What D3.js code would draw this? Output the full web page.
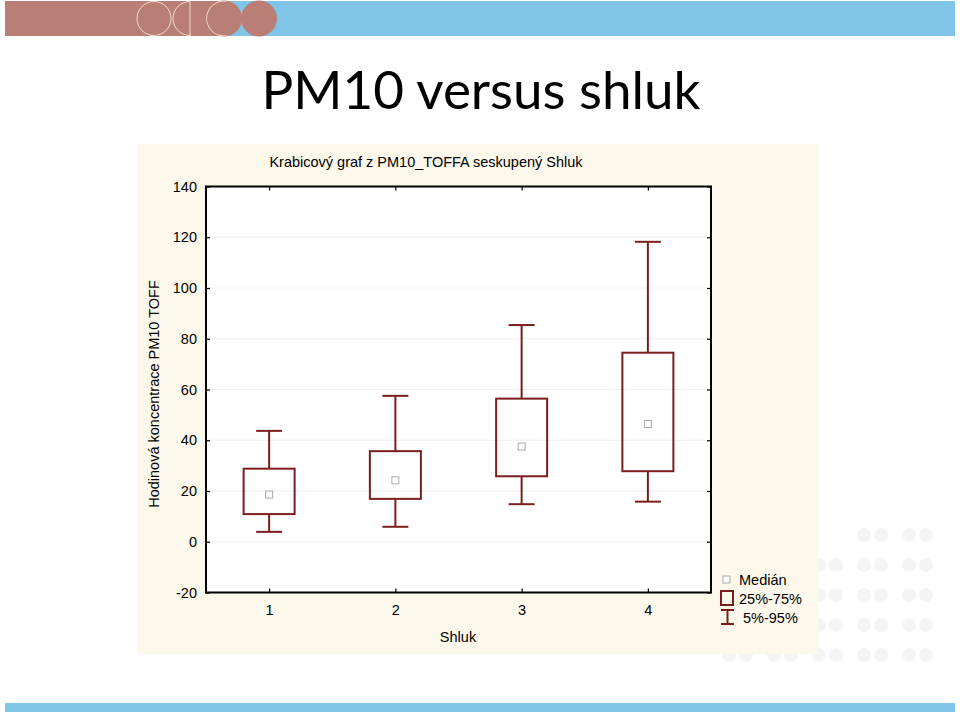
<!DOCTYPE html>
<html><head><meta charset="utf-8">
<script src="https://cdn.jsdelivr.net/npm/d3@7"></script>
<style>html,body{margin:0;padding:0;background:#fff;}svg{display:block;}</style>
</head><body>
<script>
// ---- data ----
const categories = [1, 2, 3, 4];
const p05    = [3.9, 5.9, 14.8, 15.8];
const q25    = [10.9, 16.9, 25.8, 27.8];
const median = [18.6, 24.2, 37.5, 46.4];
const q75    = [28.8, 35.7, 56.4, 74.5];
const p95    = [43.7, 57.5, 85.4, 118.2];
const yTicks = [-20, 0, 20, 40, 60, 80, 100, 120, 140];
const legendLabels = ["Medián", "25%-75%", "5%-95%"];
const slideTitle = "PM10 versus shluk";
const chartTitle = "Krabicový graf z PM10_TOFFA seskupený Shluk";
const yLabel = "Hodinová koncentrace PM10 TOFF";
const xLabel = "Shluk";

const W = 960, H = 716;
const svg = d3.select("body").append("svg").attr("width", W).attr("height", H);
const dark = "#7d1d1d";
const brown = "#b97f77", sky = "#80c5e8", pale = "#f3dcd0";

// ---- slide decoration ----
svg.append("defs").append("clipPath").attr("id", "cl").append("rect")
  .attr("x", 0).attr("y", 0).attr("width", 190).attr("height", 40);
svg.append("rect").attr("x", 5).attr("y", 1).attr("width", 950).attr("height", 35).attr("fill", sky);
svg.append("rect").attr("x", 5).attr("y", 1).attr("width", 219).attr("height", 35).attr("fill", brown);
svg.append("ellipse").attr("cx", 224).attr("cy", 18.5).attr("rx", 18).attr("ry", 18).attr("fill", brown);
svg.append("ellipse").attr("cx", 259).attr("cy", 18.5).attr("rx", 18).attr("ry", 18).attr("fill", brown);
svg.append("ellipse").attr("cx", 154).attr("cy", 18.5).attr("rx", 17).attr("ry", 17)
  .attr("fill", "none").attr("stroke", pale).attr("stroke-width", 1);
svg.append("ellipse").attr("cx", 190).attr("cy", 18.5).attr("rx", 17).attr("ry", 17).attr("clip-path", "url(#cl)")
  .attr("fill", "none").attr("stroke", pale).attr("stroke-width", 1);
svg.append("line").attr("x1", 190).attr("x2", 190).attr("y1", 1).attr("y2", 36).attr("stroke", pale).attr("stroke-width", 1);
svg.append("path").attr("d", d3.arc()({innerRadius: 17, outerRadius: 17.8, startAngle: Math.PI * 0.95, endAngle: Math.PI * 2.05}))
  .attr("transform", "translate(224,18.5)").attr("fill", pale);
svg.append("rect").attr("x", 5).attr("y", 703).attr("width", 950).attr("height", 9).attr("fill", sky);

// faint watermark pattern bottom-right
const wm = svg.append("g").attr("fill", "#f4f4f4");
for (let r = 0; r < 5; r++) {
  for (let c = 0; c < 5; c++) {
    const cx = 926 - c * 45, cy = 535 + r * 30;
    if (cx < 720 + (4 - r) * 30) continue;
    wm.append("circle").attr("cx", cx).attr("cy", cy).attr("r", 7);
    wm.append("circle").attr("cx", cx - 17).attr("cy", cy).attr("r", 7);
  }
}

// slide title
svg.append("text").attr("x", 481).attr("y", 109).attr("text-anchor", "middle")
  .attr("font-family", "Lato, 'Open Sans', sans-serif").attr("font-size", 53).attr("fill", "#000")
  .text(slideTitle);

// ---- chart panel ----
svg.append("rect").attr("x", 137).attr("y", 144).attr("width", 681).attr("height", 510).attr("fill", "#fdf8ec");

const pL = 206, pR = 711, pT = 186.5, pB = 592.5;
svg.append("rect").attr("x", pL).attr("y", pT).attr("width", pR - pL).attr("height", pB - pT).attr("fill", "#fff");

const x = d3.scaleLinear().domain([0.5, 4.5]).range([pL, pR]);
const y = d3.scaleLinear().domain([-20, 140]).range([pB, pT]);

// grid
svg.append("g").selectAll("line").data(yTicks.filter(t => t > -20 && t < 140)).join("line")
  .attr("x1", pL).attr("x2", pR).attr("y1", d => y(d)).attr("y2", d => y(d))
  .attr("stroke", "#efefef").attr("stroke-width", 1);

const font = "'Liberation Sans', Arial, sans-serif";
const fs = 14.5;
const fmt = d => String(d);
// axes
const axL = svg.append("g").attr("transform", `translate(${pL},0)`)
  .call(d3.axisLeft(y).tickValues(yTicks).tickSize(-4).tickPadding(9).tickFormat(fmt));
const axR = svg.append("g").attr("transform", `translate(${pR},0)`)
  .call(d3.axisRight(y).tickValues(yTicks).tickSize(-4).tickFormat(""));
const axB = svg.append("g").attr("transform", `translate(0,${pB})`)
  .call(d3.axisBottom(x).tickValues(categories).tickSize(-4).tickPadding(12).tickFormat(fmt));
const axT = svg.append("g").attr("transform", `translate(0,${pT})`)
  .call(d3.axisTop(x).tickValues(categories).tickSize(-4).tickFormat(""));
[axL, axR, axB, axT].forEach(a => {
  a.select(".domain").remove();
  a.selectAll(".tick line").attr("stroke", "#000").attr("stroke-width", 1.2);
  a.selectAll("text").attr("font-family", font).attr("font-size", fs).attr("fill", "#000");
});
svg.append("rect").attr("x", pL).attr("y", pT).attr("width", pR - pL).attr("height", pB - pT)
  .attr("fill", "none").attr("stroke", "#000").attr("stroke-width", 2);

// boxes
const bw = 51, cw = 26;
const g = svg.append("g").attr("stroke", dark).attr("stroke-width", 2).attr("fill", "none");
categories.forEach((c, i) => {
  const cx = x(c);
  g.append("line").attr("x1", cx).attr("x2", cx).attr("y1", y(p95[i])).attr("y2", y(q75[i]));
  g.append("line").attr("x1", cx).attr("x2", cx).attr("y1", y(q25[i])).attr("y2", y(p05[i]));
  g.append("line").attr("x1", cx - cw / 2).attr("x2", cx + cw / 2).attr("y1", y(p95[i])).attr("y2", y(p95[i]));
  g.append("line").attr("x1", cx - cw / 2).attr("x2", cx + cw / 2).attr("y1", y(p05[i])).attr("y2", y(p05[i]));
  g.append("rect").attr("x", cx - bw / 2).attr("y", y(q75[i])).attr("width", bw).attr("height", y(q25[i]) - y(q75[i]));
  svg.append("rect").attr("x", cx - 3.5).attr("y", y(median[i]) - 3.5).attr("width", 7).attr("height", 7)
    .attr("fill", "#fff").attr("stroke", "#aaa").attr("stroke-width", 1);
});

// titles
svg.append("text").attr("x", 426).attr("y", 167).attr("text-anchor", "middle")
  .attr("font-family", font).attr("font-size", fs).text(chartTitle);
svg.append("text").attr("transform", "translate(159,394) rotate(-90)").attr("text-anchor", "middle")
  .attr("font-family", font).attr("font-size", fs).text(yLabel);
svg.append("text").attr("x", 458).attr("y", 642).attr("text-anchor", "middle")
  .attr("font-family", font).attr("font-size", fs).text(xLabel);

// legend
const lg = svg.append("g").attr("font-family", font).attr("font-size", fs);
lg.append("rect").attr("x", 723).attr("y", 576).attr("width", 7).attr("height", 7)
  .attr("fill", "#fff").attr("stroke", "#aaa").attr("stroke-width", 1);
lg.append("text").attr("x", 739).attr("y", 585).text(legendLabels[0]);
lg.append("rect").attr("x", 721).attr("y", 591).attr("width", 12).attr("height", 14)
  .attr("fill", "none").attr("stroke", dark).attr("stroke-width", 2);
lg.append("text").attr("x", 739).attr("y", 604).text(legendLabels[1]);
lg.append("line").attr("x1", 721).attr("x2", 734).attr("y1", 610).attr("y2", 610).attr("stroke", dark).attr("stroke-width", 2);
lg.append("line").attr("x1", 721).attr("x2", 734).attr("y1", 624).attr("y2", 624).attr("stroke", dark).attr("stroke-width", 2);
lg.append("line").attr("x1", 727.5).attr("x2", 727.5).attr("y1", 610).attr("y2", 624).attr("stroke", dark).attr("stroke-width", 2);
lg.append("text").attr("x", 743).attr("y", 623).text(legendLabels[2]);
</script>
</body></html>
